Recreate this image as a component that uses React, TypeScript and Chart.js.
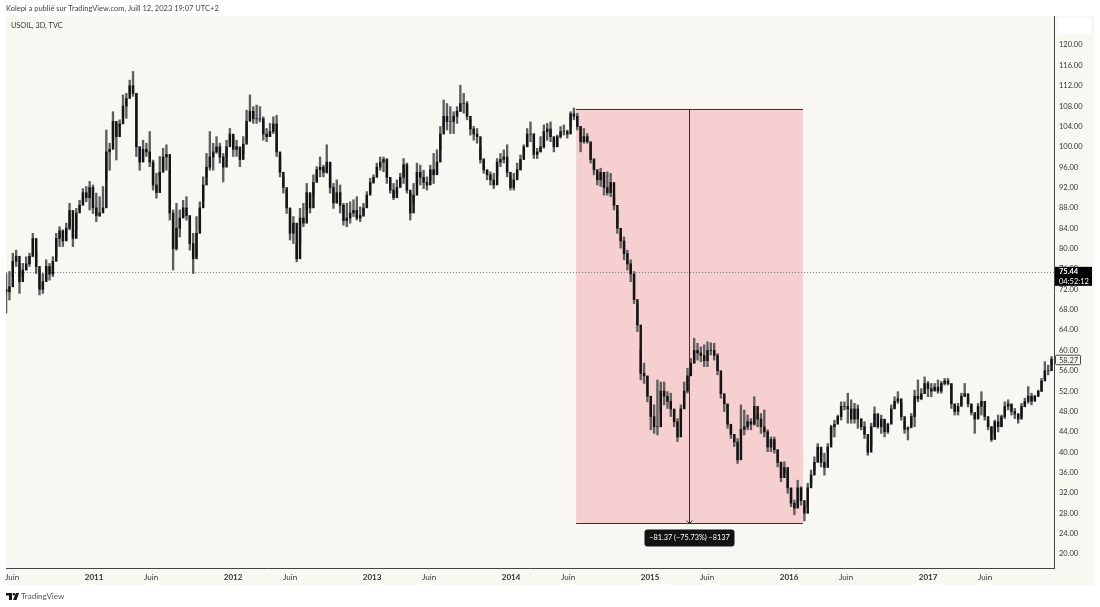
import React, { useEffect, useRef } from "react";
import { Chart, registerables } from "chart.js";

Chart.register(...registerables);

const FONT = "Lato, 'Open Sans', sans-serif";

const publishedLine = "Kolepi a publié sur TradingView.com, Juill 12, 2023 19:07 UTC+2";
const symbolLine = "USOIL, 3D, TVC";
const brandLine = "TradingView";

const firstBarYear = 2010.367;
const barStepYears = 0.02403;
const lastVisibleYear = 2017.906;

const yTicks = [20, 24, 28, 32, 36, 40, 44, 48, 52, 56, 60, 64, 68, 72, 76, 80, 84, 88, 92, 96, 100, 104, 108, 112, 116, 120];
const xTickValues = [2010.41, 2011, 2011.41, 2012, 2012.41, 2013, 2013.41, 2014, 2014.41, 2015, 2015.41, 2016, 2016.41, 2017, 2017.41];
const xTickLabels = ["Juin", "2011", "Juin", "2012", "Juin", "2013", "Juin", "2014", "Juin", "2015", "Juin", "2016", "Juin", "2017", "Juin"];

const firstOpen = 72;
const highs = [
  75.1, 75.5, 79.1, 79.7, 77.1, 77.1, 78.4, 79.1, 83, 79.7, 75.8, 75.1, 77.8, 77.1, 78.4, 83, 84.3, 83.7, 85, 88.9, 83.7, 87.9, 89.5, 91.8, 92.2, 93.2, 92.5, 90.9, 90.2, 92.2,
  103.3, 100.7, 106.9, 104.6, 105.3, 110.2, 110.5, 113.1, 114.8, 110.5, 100, 101.3, 100.7, 103, 97.4, 94.8, 98.1, 99.7, 100.4, 95.4, 87.6, 88.9, 87.6, 89.5, 90.2, 86.3, 83, 86.3, 89.2, 94.1,
  98.7, 103, 100.7, 102, 100.7, 98.7, 101.3, 103.6, 102, 101.3, 99.4, 102, 107.2, 110.2, 107.9, 108.2, 107.9, 105.9, 103.6, 104.6, 105.9, 106.2, 98.1, 94.1, 91.5, 87.6, 86.3, 81,
  87.9, 88.9, 92.8, 90.5, 94.5, 96.1, 98, 96.4, 100.4, 96.8, 92.8, 93.5, 92.5, 88.9, 88.9, 89.2, 89.6, 90.2, 88.2, 88.9, 91.2, 93.8, 94.5, 96.8, 98, 98, 97.7, 93.5, 92.8, 93.5, 94.8, 97.7,
  96.8, 90.9, 92.8, 96.8, 96.4, 95.4, 94.1, 96.4, 98.7, 99.4, 104, 109.2, 108.5, 107.9, 106.9, 107.9, 112.1, 110.5, 108.9, 105.3, 104, 103.6, 100, 97.7, 95.4, 95.1, 94.8, 97.7, 98.7, 99.4,
  100.4, 94.1, 94.8, 96.8, 98.4, 100.4, 103.6, 104.9, 102.6, 99.7, 102, 104.3, 104.6, 104.9, 101.7, 102.3, 104, 104.3, 103.3, 106.9, 107.6, 106.6, 104, 103.6,
  102.6, 100.7, 97.7, 94.5, 95.8, 94.5, 95.1, 94.8, 90.5, 87.6, 83, 82.3, 79.7, 77.8, 75.5, 69.2,
  60.1, 57.5, 54.8, 49.9, 49.3, 54.2, 53.8, 53.8, 51.9, 51.6, 48.3, 46.6, 49.3, 53.8, 56.5, 58.4, 62.4, 61.4, 60.7, 61.1, 61.7, 61.5, 61.4, 59.4, 55.2, 51.2, 49.3, 45.3, 43.4, 42.7, 49.3,
  48.3, 47.3, 46.6, 50.9, 47.3, 47.6, 48.3, 44.4, 43, 43, 40.4, 38.1, 38.1, 36.5, 32.9, 30.6, 34.5, 33.2, 29.3, 33.9, 36.5, 39.1, 41.7, 40.1, 39.8, 41.7,
  45.3, 46.3, 47.3, 49.9, 49.9, 51.6, 50.3, 49.6, 49.3, 46.6, 46, 41.7, 45.7, 48.9, 47.6, 47.3, 46.3, 45.7, 49.3, 50.9, 51.9, 49.6, 46, 45, 47.6, 52.2, 54.2, 52.5, 54.8, 53.9, 53.5, 53.5, 54.2, 53.9,
  54.5, 54.5, 53.2, 49.3, 49.6, 51.6, 53.5, 50.9, 49.3, 47.3, 49.6, 51.9, 48.9, 46.3, 45, 46.3, 47.3, 47.3, 49.9, 50.3, 49.3, 48.6, 47.6, 49.6, 50.6, 52.9, 51.6, 51.2, 52.2, 54.5, 57.8, 57.1, 58.8,
];
const lows = [
  67.3, 69.9, 74.5, 76.5, 71.2, 74.5, 75.8, 76.5, 78.4, 75.1, 70.9, 71.2, 73.8, 73.8, 74.5, 78.4, 80.4, 80.4, 81.7, 83.7, 80.4, 83.7, 87.6, 88.9, 89.2, 87.6, 86.9, 85.3, 86.3, 87.6,
  93.5, 95.4, 101.3, 97.4, 104, 105.9, 105.6, 110.5, 109.9, 98.1, 95.4, 97.4, 98.1, 96.1, 91.5, 89.9, 94.1, 95.4, 95.4, 85.6, 75.8, 79.7, 82.3, 86.3, 85.6, 79.7, 75.1, 78.4, 83.7, 89.5,
  94.1, 95.4, 95.4, 98.7, 96.8, 93.1, 98.1, 100.7, 98.1, 98.1, 96.1, 98.7, 101.3, 105.3, 104.6, 104.6, 104.9, 101.3, 101, 102, 102.6, 98.1, 94.1, 90.9, 86.9, 81.7, 81, 77.4,
  81, 84.3, 87.6, 87, 90.5, 93.5, 94.1, 94.1, 94.8, 90.9, 87.9, 88.9, 87, 84.6, 84.3, 85, 86.3, 85.6, 85.3, 86.3, 88.2, 90.9, 92.8, 94.8, 95.4, 95.1, 92.8, 90.9, 89.6, 90.9, 92.2, 92.8,
  90.9, 85.6, 88.9, 92.8, 92.5, 91.8, 91.5, 93.5, 92.8, 94.8, 99.4, 104, 103.3, 102.6, 102.6, 104.6, 106.9, 106.6, 105.3, 102.3, 101.3, 100.7, 96.8, 94.8, 93.5, 92.5, 91.8, 94.1, 96.1, 96.8,
  94.1, 91.5, 91.5, 94.1, 95.4, 97.7, 100, 101, 97.7, 97.7, 99, 99.7, 101.3, 101, 99, 100, 101.7, 102.3, 101.7, 104, 105.3, 103.3, 99, 100.7,
  100.7, 96.8, 94.5, 92.5, 92.2, 90.5, 90.5, 90.2, 87.6, 83, 80.1, 77.8, 75.8, 73.5, 69.2, 63.7,
  54.2, 53.5, 49.9, 44.4, 43.7, 43.4, 48, 49.3, 48.6, 47, 45, 42.1, 46.3, 48.6, 51.6, 56.1, 57.5, 58.1, 57.8, 56.8, 56.8, 59.1, 58.1, 55.2, 50.6, 48, 44.7, 42.7, 41.1, 37.8, 43.7,
  43.4, 44.4, 44.4, 45.3, 45, 43.7, 43, 40.1, 40.1, 39.8, 37.1, 34.2, 35.8, 31.9, 29.3, 27.7, 29.6, 29.6, 26.5, 29.3, 33.9, 36.5, 38.1, 37.1, 35.5, 40.1,
  43, 43, 46, 46.3, 48.3, 45.7, 45.7, 45.7, 44.7, 44.4, 42.7, 39.4, 41.1, 45, 44.7, 43.7, 43, 43.7, 45.7, 48.9, 49.6, 46.3, 43.7, 42.4, 45.3, 45, 49.9, 50.3, 52.2, 50.9, 50.9, 52.2, 51.6, 51.6,
  53.2, 53.2, 48.6, 47.3, 47.3, 49.3, 50.9, 48.9, 47.3, 43.7, 46.6, 47.3, 46.3, 44.4, 42.1, 43.7, 44, 45, 46.6, 48.3, 47.3, 46.6, 45.7, 47, 48.9, 49.6, 49.3, 50.3, 50.9, 51.9, 54.5, 55.2, 57.1,
];
const closes = [
  71.5, 72.5, 77.5, 78.5, 73.5, 75.8, 77, 78.5, 82, 76.5, 72, 73.5, 76.5, 75, 77.5, 82, 83.5, 81.5, 84, 87.5, 82, 87, 88.5, 91, 90, 92, 88, 86.5, 87, 88,
  99, 99.5, 105, 102, 104.5, 108, 109.5, 112, 110.5, 100, 97, 99.5, 99, 97, 92.5, 91, 95, 98, 98.5, 87, 80, 84, 86, 88, 86.5, 81, 78, 83, 88, 92.5,
  96, 98, 99, 100, 98, 96, 100, 102.5, 99.5, 100, 97.5, 100.5, 105, 107, 105.5, 105.5, 105.5, 102.5, 102, 103, 104.5, 99, 95, 92, 88, 83, 85, 78,
  86, 85, 91, 88, 93, 95.5, 96, 95, 97, 92, 89, 91, 88.5, 85.5, 86, 87, 87.5, 86, 86.5, 88, 90.5, 93, 94, 96, 97, 97.5, 94, 91.5, 90, 92, 94, 96.5,
  91.5, 87, 90.5, 95, 94, 93, 92.5, 95.5, 94.5, 97, 102.5, 106, 105, 105, 106, 107, 108.5, 108.5, 106, 103.5, 102.5, 102, 97.5, 95.5, 94.5, 93.5, 92.5, 97, 97.5, 98,
  95, 92, 93.5, 95.5, 97.5, 100, 102.5, 102.5, 98.5, 99, 100, 103, 103.5, 102, 100, 102, 103, 103, 102.5, 106.5, 106, 104, 101, 102,
  101, 97.5, 95.5, 93.5, 95, 92, 91, 93, 88.5, 84, 81.5, 79, 77, 75, 70, 65,
  55.5, 55, 51, 47, 45, 45, 52, 51, 50, 48.5, 46, 43, 48.5, 52, 55, 57.5, 60, 59.5, 59, 58, 60, 60, 59, 56, 51.5, 49.5, 45.5, 43.5, 42, 38.5, 44.5,
  45, 46, 45.5, 49, 46.5, 45, 44, 41, 42.5, 40.5, 38, 35, 37, 33, 30, 29, 33, 30.5, 28, 33, 35.5, 38, 41, 38, 37, 41,
  45, 45.5, 47, 49, 49, 48.5, 46.5, 48.5, 46.5, 45, 43.5, 40, 45, 47.5, 45, 46.5, 44, 45.5, 48.5, 50, 50.5, 47, 44.5, 44.8, 47, 51, 50.5, 51.5, 53.5, 52.5, 52, 52.8, 52, 53.5,
  54, 53.5, 49.5, 48, 49, 51, 51.5, 49.5, 47.8, 46.5, 49, 50, 47, 45, 42.5, 46, 45, 47, 49, 49.5, 48, 47.5, 46.5, 49, 50, 51, 50, 51, 52, 54, 56, 56, 58.27,
];

const yearOfBar = (i: number) => firstBarYear + i * barStepYears;
const opens = closes.map((_, i) => (i === 0 ? firstOpen : closes[i - 1]));

const lastPrice = 75.44;
const countdown = "04:52:12";
const markedPrice = 58.27;
const measureStartYear = 2014.468;
const measureEndYear = 2016.1;
const measureTop = 107.45;
const measureBottom = 26.08;
const measureLabel = "−81.37 (−75.73%) −8137";

const overlay = {
  id: "overlay",
  beforeDraw(chart: any) {
    const { ctx } = chart;
    ctx.save();
    ctx.fillStyle = "#ffffff";
    ctx.fillRect(0, 0, chart.width, chart.height);
    ctx.fillStyle = "#f8f7f2";
    ctx.fillRect(6, 16, 1088, 569);
    ctx.fillStyle = "#444";
    ctx.font = `7.5px ${FONT}`;
    ctx.textBaseline = "middle";
    ctx.textAlign = "left";
    ctx.fillText(publishedLine, 6, 9);
    ctx.restore();
  },
  beforeDatasetsDraw(chart: any) {
    const { ctx, chartArea: a, scales } = chart;
    const x0 = scales.x.getPixelForValue(measureStartYear);
    const x1 = scales.x.getPixelForValue(measureEndYear);
    const yT = scales.y.getPixelForValue(measureTop);
    const yB = scales.y.getPixelForValue(measureBottom);
    ctx.save();
    ctx.fillStyle = "#f6d0d0";
    ctx.fillRect(x0, yT, x1 - x0, yB - yT);
    const yL = Math.round(scales.y.getPixelForValue(lastPrice)) + 0.5;
    ctx.strokeStyle = "#777";
    ctx.lineWidth = 1;
    ctx.setLineDash([1, 2]);
    ctx.beginPath();
    ctx.moveTo(a.left, yL);
    ctx.lineTo(a.right, yL);
    ctx.stroke();
    ctx.restore();
  },
  afterDraw(chart: any) {
    const { ctx, scales } = chart;
    const x0 = scales.x.getPixelForValue(measureStartYear);
    const x1 = scales.x.getPixelForValue(measureEndYear);
    const xm = Math.round((x0 + x1) / 2) - 0.5;
    const yT = Math.round(scales.y.getPixelForValue(measureTop)) + 0.5;
    const yB = Math.round(scales.y.getPixelForValue(measureBottom)) + 0.5;
    ctx.save();
    ctx.strokeStyle = "#333";
    ctx.lineWidth = 1;
    ctx.beginPath();
    ctx.moveTo(x0, yT); ctx.lineTo(x1, yT);
    ctx.moveTo(x0, yB); ctx.lineTo(x1, yB);
    ctx.moveTo(xm, yT); ctx.lineTo(xm, yB);
    ctx.moveTo(xm - 3, yB - 3); ctx.lineTo(xm, yB); ctx.lineTo(xm + 3, yB - 3);
    ctx.stroke();

    ctx.fillStyle = "#131313";
    ctx.beginPath();
    ctx.roundRect(xm - 45, yB + 6, 90, 17, 3);
    ctx.fill();
    ctx.fillStyle = "#fff";
    ctx.font = `7.3px ${FONT}`;
    ctx.textAlign = "center";
    ctx.textBaseline = "middle";
    ctx.fillText(measureLabel, xm, yB + 14.5);

    ctx.textAlign = "left";
    ctx.fillStyle = "#333";
    ctx.font = `7.3px ${FONT}`;
    ctx.fillText(symbolLine, 11, 25.5);

    // top-right blank control
    ctx.fillStyle = "#fff";
    ctx.beginPath();
    ctx.roundRect(1057, 18, 34, 16, 2);
    ctx.fill();

    // last price tag
    const yP = scales.y.getPixelForValue(lastPrice);
    ctx.fillStyle = "#000";
    ctx.fillRect(1055, yP - 5, 37, 19);
    ctx.fillStyle = "#fff";
    ctx.font = `bold 7.5px ${FONT}`;
    ctx.fillText(lastPrice.toFixed(2), 1059, yP);
    ctx.font = `7.5px ${FONT}`;
    ctx.fillText(countdown, 1059, yP + 9.5);

    // marked price tag
    const yM = scales.y.getPixelForValue(markedPrice);
    ctx.fillStyle = "#f8f7f2";
    ctx.strokeStyle = "#444";
    ctx.beginPath();
    ctx.roundRect(1055.5, yM - 4, 25, 9.5, 1);
    ctx.fill();
    ctx.stroke();
    ctx.fillStyle = "#333";
    ctx.fillText(markedPrice.toFixed(2), 1059, yM + 1);

    // brand mark
    ctx.fillStyle = "#131722";
    ctx.fillRect(6, 593, 6, 2.5);
    ctx.fillRect(9, 593, 3, 7);
    ctx.beginPath();
    ctx.arc(14, 594.3, 1.3, 0, Math.PI * 2);
    ctx.fill();
    ctx.beginPath();
    ctx.moveTo(16, 593); ctx.lineTo(19, 593); ctx.lineTo(16.5, 600); ctx.lineTo(13, 600);
    ctx.closePath();
    ctx.fill();
    ctx.fillStyle = "#555";
    ctx.font = `8px ${FONT}`;
    ctx.fillText(brandLine, 21, 596.5);
    ctx.restore();
  },
};

export default function App() {
  const ref = useRef<HTMLCanvasElement | null>(null);
  useEffect(() => {
    document.body.style.margin = "0";
    const chart = new Chart(ref.current as HTMLCanvasElement, {
      type: "bar",
      data: {
        datasets: [
          {
            label: "wick",
            data: highs.map((h, i) => ({ x: yearOfBar(i), y: [lows[i], h] })),
            backgroundColor: "#5e5e5e",
            barThickness: 1.7,
            grouped: false,
            order: 2,
          } as any,
          {
            label: "body",
            data: closes.map((c, i) => ({ x: yearOfBar(i), y: [opens[i], c] })),
            backgroundColor: "#141414",
            barThickness: 1.8,
            grouped: false,
            order: 1,
          } as any,
        ],
      },
      options: {
        responsive: false,
        animation: false,
        devicePixelRatio: 1,
        layout: { padding: { left: 6, top: 16, right: 6, bottom: 22 } },
        plugins: { legend: { display: false }, tooltip: { enabled: false } },
        scales: {
          x: {
            type: "linear",
            offset: false,
            min: firstBarYear,
            max: lastVisibleYear,
            grid: { display: false, drawTicks: false },
            border: { display: true, color: "#444", width: 1 },
            afterBuildTicks(s: any) {
              s.ticks = xTickValues.map((value) => ({ value }));
            },
            afterFit(s: any) {
              s.height = 17;
            },
            ticks: {
              autoSkip: false,
              maxRotation: 0,
              padding: 5,
              color: "#333",
              font: (c: any) => ({
                family: FONT,
                size: 8,
                weight: Number.isInteger(c.tick?.value) ? "bold" : "normal",
              }),
              callback: (_v: any, i: number) => xTickLabels[i],
            },
          } as any,
          y: {
            type: "linear",
            position: "right",
            min: 17.25,
            max: 125.7,
            grid: { display: false, drawTicks: false },
            border: { display: true, color: "#444", width: 1 },
            afterBuildTicks(s: any) {
              s.ticks = yTicks.map((value) => ({ value }));
            },
            afterFit(s: any) {
              s.width = 40;
            },
            ticks: {
              autoSkip: false,
              padding: 5,
              color: "#333",
              font: { family: FONT, size: 7.5 },
              callback: (v: any) => Number(v).toFixed(2),
            },
          } as any,
        },
      },
      plugins: [overlay],
    } as any);
    return () => chart.destroy();
  }, []);
  return <canvas ref={ref} width={1100} height={607} style={{ display: "block", width: 1100, height: 607 }} />;
}
